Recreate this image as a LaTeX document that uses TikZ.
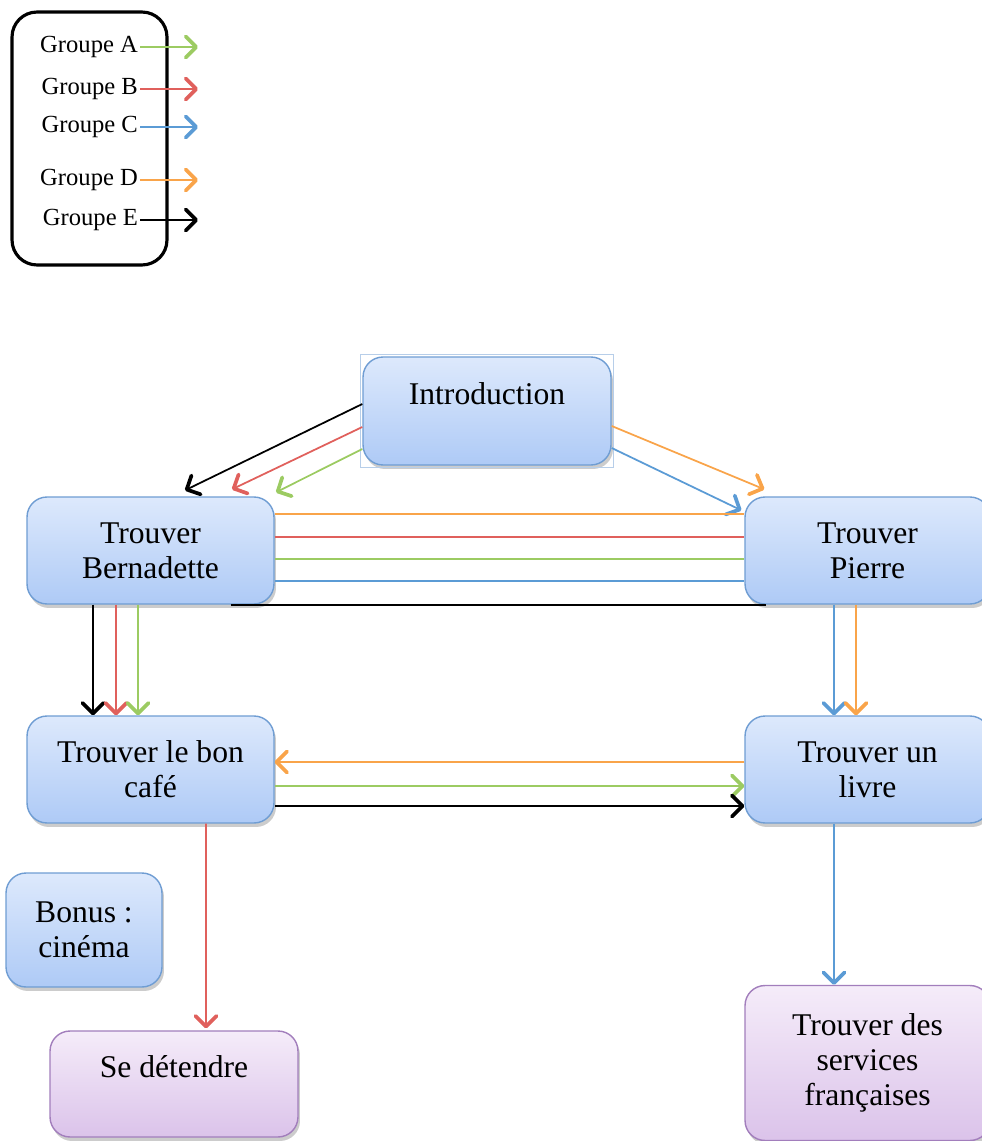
\documentclass[tikz,border=0pt]{standalone}
\usepackage{fontspec}
\setmainfont{Liberation Serif}
\usepackage{xcolor}
\usepackage{tikz}
\usetikzlibrary{positioning,arrows.meta,shadows}
\definecolor{vert}{HTML}{9CCB62}
\definecolor{rouge}{HTML}{E0605C}
\definecolor{bleu}{HTML}{5B9BD5}
\definecolor{orange}{HTML}{F9A44A}
\definecolor{cielhaut}{HTML}{DDE9FC}
\definecolor{cielbas}{HTML}{AECAF6}
\definecolor{cielbord}{HTML}{6F9DD3}
\definecolor{mauvehaut}{HTML}{F5ECF9}
\definecolor{mauvebas}{HTML}{DBC3EA}
\definecolor{mauvebord}{HTML}{A27EBC}

\begin{document}
\begin{tikzpicture}[x=0.02cm, y=-0.02cm, font=\fontsize{18}{19.8}\selectfont,
  boite/.style={draw=cielbord, line width=0.8pt, rounded corners=4mm,
    top color=cielhaut, bottom color=cielbas, align=center, inner sep=0pt,
    drop shadow={shadow xshift=0.4mm, shadow yshift=-0.8mm, opacity=0.4}},
  mauve/.style={boite, draw=mauvebord, top color=mauvehaut, bottom color=mauvebas},
  fl/.style={line width=1pt, -{Straight Barb[length=2.1mm, width=4.2mm, line width=2.1pt, round]}},
  trait/.style={line width=1pt}]
  \useasboundingbox (0,0) rectangle (982,1141);

  % legende
  \node[draw, line width=1.8pt, rounded corners=5mm, minimum width=3.1cm,
    minimum height=5.06cm] (legende) at (89.5,138.5) {};
  \foreach \g/\c/\y in {A/vert/47, B/rouge/89, C/bleu/127, D/orange/180, E/black/220} {
    \node[font=\fontsize{14}{16}\selectfont, anchor=east, inner sep=1pt] (g\g) at (140,\y) {Groupe \g};
    \coordinate (f\g) at (198,\y);
    \draw[fl, \c] (g\g.east) -- (f\g);
  }

  % etapes
  \node[boite, minimum width=4.96cm, minimum height=2.16cm] (intro) at (487,411) {Introduction\\\mbox{}};
  \draw[cielbord!50, line width=0.4pt] ([shift={(-0.03cm,0.04cm)}]intro.north west)
    rectangle ([shift={(0.04cm,-0.04cm)}]intro.south east);
  \node[boite, minimum width=4.94cm, minimum height=2.14cm] (bern) at (150.5,550.5) {Trouver\\Bernadette};
  \node[boite, minimum width=4.9cm, minimum height=2.14cm] (pierre) at (867.5,550.5) {Trouver\\Pierre};
  \node[boite, minimum width=4.94cm, minimum height=2.14cm] (cafe) at (150.5,769.5) {Trouver le bon\\café};
  \node[boite, minimum width=4.9cm, minimum height=2.14cm] (livre) at (867.5,769.5) {Trouver un\\livre};
  \node[boite, minimum width=3.12cm, minimum height=2.28cm] (bonus) at (84,930) {Bonus :\\cinéma};
  \node[mauve, minimum width=4.96cm, minimum height=2.12cm] (detente) at (174,1084) {Se détendre\\\mbox{}};
  \node[mauve, minimum width=4.9cm, minimum height=3.1cm] (services) at (867.5,1063) {Trouver des\\services\\françaises};

  % depuis l'introduction
  \draw[fl] ([yshift=0.14cm]intro.west) -- ([xshift=0.69cm, yshift=0.12cm]bern.north);
  \draw[fl, rouge] ([yshift=-0.32cm]intro.west) -- ([xshift=1.63cm, yshift=0.14cm]bern.north);
  \draw[fl, vert] ([yshift=-0.76cm]intro.west) -- ([xshift=2.51cm, yshift=0.08cm]bern.north);
  \draw[fl, orange] ([yshift=-0.3cm]intro.east) -- ([xshift=0.4cm, yshift=0.14cm]pierre.north west);
  \draw[fl, bleu] ([yshift=-0.74cm]intro.east) -- ([xshift=-0.06cm, yshift=-0.28cm]pierre.north west);

  % Bernadette -- Pierre
  \foreach \c/\d in {orange/0.73, rouge/0.27, vert/-0.17, bleu/-0.61}
    \draw[trait, \c] ([yshift=\d cm]bern.east) -- ([yshift=\d cm]pierre.west);
  \draw[trait] ([xshift=-0.88cm]bern.south east) -- ([xshift=0.44cm]pierre.south west);

  % vers le bas
  \foreach \c/\d in {black/-1.15, rouge/-0.69, vert/-0.25}
    \draw[fl, \c] ([xshift=\d cm]bern.south) -- ([xshift=\d cm]cafe.north);
  \foreach \c/\d in {bleu/-0.67, orange/-0.23}
    \draw[fl, \c] ([xshift=\d cm]pierre.south) -- ([xshift=\d cm]livre.north);

  % cafe -- livre
  \draw[fl, orange] ([yshift=0.15cm]livre.west) -- ([yshift=0.15cm]cafe.east);
  \draw[fl, vert] ([yshift=-0.33cm]cafe.east) -- ([yshift=-0.33cm]livre.west);
  \draw[fl] ([yshift=-0.73cm]cafe.east) -- ([yshift=-0.73cm]livre.west);

  % fin
  \draw[fl, rouge] ([xshift=1.11cm]cafe.south) -- ([xshift=0.64cm, yshift=0.04cm]detente.north);
  \draw[fl, bleu] ([xshift=-0.67cm]livre.south) -- ([xshift=-0.67cm]services.north);
\end{tikzpicture}
\end{document}
